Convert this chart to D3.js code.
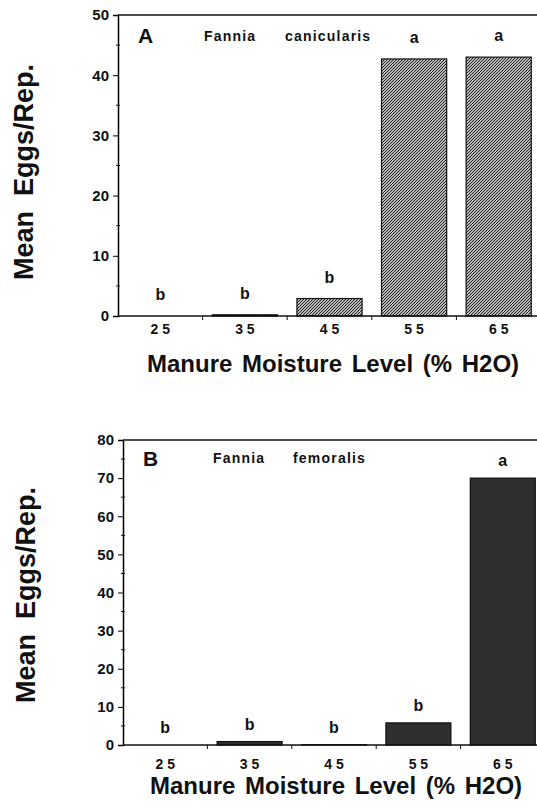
<!DOCTYPE html>
<html>
<head>
<meta charset="utf-8">
<script src="https://cdn.jsdelivr.net/npm/d3@7/dist/d3.min.js"></script>
<style>
  body { margin: 0; background: #fff; }
  text { font-family: "Liberation Sans", Arial, Helvetica, sans-serif; font-weight: bold; fill: #111; }
</style>
</head>
<body>
<div class="figure"></div>
<script>
// data
var moistureLevels = ["25", "35", "45", "55", "65"];
var tickLabels = ["2 5", "3 5", "4 5", "5 5", "6 5"];
var eggsA = [0, 0.2, 2.9, 42.7, 43.0];
var lettersA = ["b", "b", "b", "a", "a"];
var eggsB = [0, 0.9, 0.1, 5.8, 70.0];
var lettersB = ["b", "b", "b", "b", "a"];
var yTicksA = [0, 10, 20, 30, 40, 50];
var yTicksB = [0, 10, 20, 30, 40, 50, 60, 70, 80];

var W = 537, H = 809;

var svg = d3.select(".figure")
  .append("svg")
  .attr("width", W)
  .attr("height", H);

var defs = svg.append("defs");
var hatch = defs.append("pattern")
  .attr("id", "hatch")
  .attr("patternUnits", "userSpaceOnUse")
  .attr("width", 3)
  .attr("height", 3);
hatch.append("rect").attr("width", 3).attr("height", 3).attr("fill", "#fff");
hatch.append("path")
  .attr("d", "M-1,1 L1,-1 M0,3 L3,0 M2,4 L4,2")
  .attr("stroke", "#111")
  .attr("stroke-width", 1.1);

var drawPanel = function(p) {
  var g = svg.append("g");

  var x = d3.scaleBand()
    .domain(moistureLevels)
    .range([p.left, p.right])
    .paddingInner(0.23)
    .paddingOuter(0.115);

  var edges = d3.scaleLinear().domain([0, moistureLevels.length]).range([p.left, p.right]);

  var y = d3.scaleLinear()
    .domain([0, p.yMax])
    .range([p.bottom, p.top]);

  // bars
  g.selectAll("rect.bar")
    .data(p.values)
    .enter().append("rect")
    .attr("class", "bar")
    .attr("x", function(d, i) { return x(moistureLevels[i]); })
    .attr("width", x.bandwidth())
    .attr("y", function(d) { return y(d); })
    .attr("height", function(d) { return p.bottom - y(d); })
    .attr("fill", p.fill)
    .attr("stroke", "#111")
    .attr("stroke-width", 1.2);

  // significance letters
  g.selectAll("text.letter")
    .data(p.letters)
    .enter().append("text")
    .attr("class", "letter")
    .attr("x", function(d, i) { return x(moistureLevels[i]) + x.bandwidth() / 2; })
    .attr("y", function(d, i) { return y(p.values[i]) - p.letterGap; })
    .attr("text-anchor", "middle")
    .style("font-size", "16px")
    .text(function(d) { return d; });

  // y axis, major and minor ticks
  var yAxis = g.append("g")
    .attr("transform", "translate(" + p.left + ",0)")
    .call(d3.axisLeft(y).tickValues(p.yTicks).tickSize(5).tickPadding(4));
  yAxis.selectAll("text").style("font-size", "15px");
  yAxis.select(".domain").attr("stroke-width", 1.5);

  var minor = d3.range(5, p.yMax, 10);
  g.selectAll("line.minor")
    .data(minor)
    .enter().append("line")
    .attr("class", "minor")
    .attr("x1", p.left - 2)
    .attr("x2", p.left + 2)
    .attr("y1", function(d) { return y(d); })
    .attr("y2", function(d) { return y(d); })
    .attr("stroke", "#111");

  // top frame line
  g.append("line")
    .attr("x1", p.left).attr("x2", W)
    .attr("y1", p.top).attr("y2", p.top)
    .attr("stroke", "#111")
    .attr("stroke-width", 1.5);

  // x axis line and ticks between categories
  g.append("line")
    .attr("x1", p.left).attr("x2", W)
    .attr("y1", p.bottom).attr("y2", p.bottom)
    .attr("stroke", "#111")
    .attr("stroke-width", 1.5);

  g.selectAll("line.xtick")
    .data(d3.range(1, moistureLevels.length))
    .enter().append("line")
    .attr("class", "xtick")
    .attr("x1", function(d) { return edges(d); })
    .attr("x2", function(d) { return edges(d); })
    .attr("y1", p.bottom)
    .attr("y2", p.bottom + 4)
    .attr("stroke", "#111");

  g.selectAll("text.xlab")
    .data(tickLabels)
    .enter().append("text")
    .attr("class", "xlab")
    .attr("x", function(d, i) { return x(moistureLevels[i]) + x.bandwidth() / 2; })
    .attr("y", p.bottom + p.xLabGap)
    .attr("text-anchor", "middle")
    .style("font-size", "14px")
    .style("white-space", "pre")
    .text(function(d) { return d; });

  // axis titles
  g.append("text")
    .attr("x", p.xTitleX)
    .attr("y", p.xTitleY)
    .style("font-size", "24px")
    .style("word-spacing", "3px")
    .text("Manure Moisture Level (% H2O)");

  g.append("text")
    .attr("transform", "translate(" + p.yTitleX + "," + p.yTitleY + ") rotate(-90)")
    .attr("text-anchor", "middle")
    .style("font-size", "27px")
    .style("white-space", "pre")
    .text("Mean  Eggs/Rep.");

  // panel letter and species name
  g.append("text")
    .attr("x", p.left + 20)
    .attr("y", p.panelY)
    .style("font-size", "21px")
    .text(p.panel);

  g.append("text")
    .attr("x", p.genusX)
    .attr("y", p.speciesY)
    .style("font-size", "14px")
    .style("letter-spacing", "1.2px")
    .text("Fannia");

  g.append("text")
    .attr("x", p.speciesX)
    .attr("y", p.speciesY)
    .style("font-size", "14px")
    .style("letter-spacing", "1.2px")
    .text(p.species);
};

drawPanel({
  panel: "A", species: "canicularis",
  values: eggsA, letters: lettersA, yTicks: yTicksA, yMax: 50,
  left: 118, right: 541, top: 15, bottom: 316,
  fill: "url(#hatch)", letterGap: 16, xLabGap: 18,
  xTitleX: 147, xTitleY: 372, yTitleX: 33, yTitleY: 172,
  panelY: 43, genusX: 204, speciesX: 285, speciesY: 41
});

drawPanel({
  panel: "B", species: "femoralis",
  values: eggsB, letters: lettersB, yTicks: yTicksB, yMax: 80,
  left: 123, right: 545, top: 440, bottom: 745,
  fill: "#2f2f2f", letterGap: 12, xLabGap: 24,
  xTitleX: 150, xTitleY: 794, yTitleX: 35, yTitleY: 595,
  panelY: 466, genusX: 213, speciesX: 293, speciesY: 463
});
</script>
</body>
</html>
